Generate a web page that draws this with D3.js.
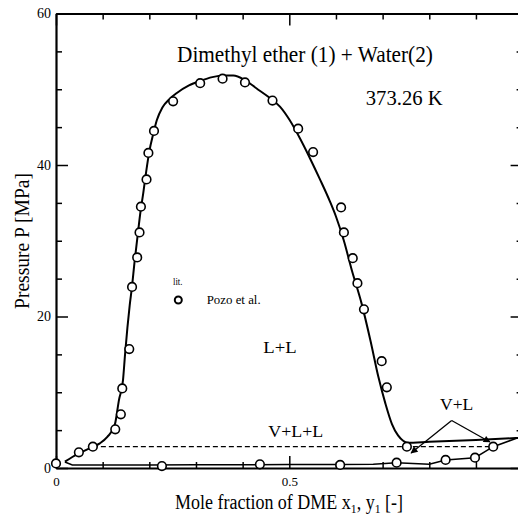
<!DOCTYPE html>
<html><head><meta charset="utf-8">
<script src="https://cdn.jsdelivr.net/npm/d3@7"></script>
<style>
body{margin:0;background:#fff}
svg{display:block}
text{font-family:"Liberation Serif","Times New Roman",serif;fill:#000}
</style>
</head><body><svg id="c" width="518" height="516"></svg>
<script>
// ---- data ----
const xMajorTicks = [0, 0.5];
const xMajorLabels = ["0", "0.5"];
const xMinorTicks = [0.1, 0.2, 0.3, 0.4, 0.6, 0.7, 0.8, 0.9];
const yMajorTicks = [0, 20, 40, 60];
const yMajorLabels = ["0", "20", "40", "60"];
const yMinorTicks = [5, 10, 15, 25, 30, 35, 45, 50, 55];

// calculated L-L / bubble curve
const curveX = [0.019,0.035,0.049,0.065,0.079,0.094,0.110,0.126,0.135,0.1436,0.148,0.153,0.158,0.163,0.168,0.175,0.181,0.187,0.193,0.200,0.208,0.216,0.228,0.243,0.259,0.285,0.309,0.335,0.360,0.380,0.405,0.430,0.455,0.480,0.500,0.523,0.545,0.565,0.587,0.600,0.617,0.634,0.655,0.674,0.691,0.706,0.720,0.733,0.744,0.752,0.80,0.90,1.0];
const curveY = [0.83,1.45,1.94,2.4,2.81,3.26,4.1,5.7,9.0,11.6,15.0,18.5,21.5,24.0,27.0,30.7,33.8,36.3,39.0,41.8,44.0,45.9,47.6,48.7,49.5,50.5,51.1,51.6,51.8,51.8,51.2,50.1,49.0,47.7,46.0,43.5,40.8,38.2,35.2,33.2,30.0,26.1,21.7,16.8,12.0,8.5,5.8,4.3,3.6,3.34,3.45,3.7,4.0];

// calculated dew curve
const dewX = [0.019,0.035,0.1,0.2,0.3,0.4,0.5,0.6,0.68,0.73,0.80,0.835,0.898,0.937,0.987,1.0];
const dewY = [0.8,0.4,0.4,0.4,0.42,0.42,0.45,0.45,0.5,0.68,0.5,1.06,1.36,2.81,3.92,4.0];

// three-phase line
const threePhaseX = [0.079, 0.937];
const threePhaseY = [2.81, 2.81];

// literature data (Pozo et al.)
const pozoX = [0.0,0.049,0.079,0.127,0.139,0.142,0.157,0.163,0.174,0.179,0.182,0.194,0.198,0.210,0.251,0.309,0.357,0.405,0.464,0.519,0.551,0.611,0.617,0.636,0.646,0.660,0.698,0.709,0.752,0.937,0.898,0.835,0.730,0.609,0.437,0.227];
const pozoY = [0.6,2.07,2.81,5.11,7.09,10.5,15.7,23.9,27.8,31.1,34.5,38.1,41.6,44.5,48.4,50.8,51.4,50.9,48.5,44.8,41.7,34.4,31.1,27.7,24.4,20.95,14.1,10.65,2.81,2.81,1.36,1.06,0.70,0.40,0.49,0.26];

// annotation arrows (data coords)
const arrowStart = [0.848, 6.27];
const arrowEnds = [[0.761, 1.98], [0.930, 3.43]];

// ---- drawing ----
const svg = d3.select("#c");
const x = d3.scaleLinear().domain([0, 1]).range([56, 522.6]);
const y = d3.scaleLinear().domain([0, 60]).range([468, 13.5]);
const FONT = '"Liberation Serif","Times New Roman",serif';

function styleAxis(g, showDomain) {
  g.attr("font-family", FONT).attr("font-size", 14);
  g.select(".domain").attr("stroke-width", 2.2).attr("display", showDomain ? null : "none");
  g.selectAll(".tick line").attr("stroke-width", 1.5);
  g.selectAll(".tick text").attr("fill", "#000");
}

// bottom
svg.append("g").attr("transform", `translate(0,${y(0)})`)
  .call(d3.axisBottom(x).tickValues(xMinorTicks).tickSizeInner(-6).tickSizeOuter(0).tickFormat(""))
  .call(g => styleAxis(g, false));
svg.append("g").attr("transform", `translate(0,${y(0)})`)
  .call(d3.axisBottom(x).tickValues(xMajorTicks).tickSizeInner(-12).tickSizeOuter(0).tickPadding(9)
    .tickFormat((d, i) => xMajorLabels[i]))
  .call(g => styleAxis(g, true))
  .call(g => g.attr("font-size", 13));
// top
svg.append("g").attr("transform", `translate(0,${y(60)})`)
  .call(d3.axisTop(x).tickValues(xMinorTicks).tickSizeInner(-6).tickSizeOuter(0).tickFormat(""))
  .call(g => styleAxis(g, false));
svg.append("g").attr("transform", `translate(0,${y(60)})`)
  .call(d3.axisTop(x).tickValues(xMajorTicks).tickSizeInner(-12).tickSizeOuter(0).tickFormat(""))
  .call(g => styleAxis(g, true));
// left
svg.append("g").attr("transform", `translate(${x(0)},0)`)
  .call(d3.axisLeft(y).tickValues(yMinorTicks).tickSizeInner(-6).tickSizeOuter(0).tickFormat(""))
  .call(g => styleAxis(g, false));
svg.append("g").attr("transform", `translate(${x(0)},0)`)
  .call(d3.axisLeft(y).tickValues(yMajorTicks).tickSizeInner(-12).tickSizeOuter(0).tickPadding(5)
    .tickFormat((d, i) => yMajorLabels[i]))
  .call(g => styleAxis(g, true));
// right
svg.append("g").attr("transform", `translate(${x(1)},0)`)
  .call(d3.axisRight(y).tickValues(yMinorTicks).tickSizeInner(-6).tickSizeOuter(0).tickFormat(""))
  .call(g => styleAxis(g, false));
svg.append("g").attr("transform", `translate(${x(1)},0)`)
  .call(d3.axisRight(y).tickValues(yMajorTicks).tickSizeInner(-12).tickSizeOuter(0).tickFormat(""))
  .call(g => styleAxis(g, true));

// lines
const curvePts = curveX.map((v, i) => [v, curveY[i]]);
const dewPts = dewX.map((v, i) => [v, dewY[i]]);
const tpPts = threePhaseX.map((v, i) => [v, threePhaseY[i]]);

svg.append("path").attr("d", d3.line().x(d => x(d[0])).y(d => y(d[1]))(tpPts))
  .attr("fill", "none").attr("stroke", "#000").attr("stroke-width", 1.3).attr("stroke-dasharray", "5,3");
svg.append("path").attr("d", d3.line().x(d => x(d[0])).y(d => y(d[1]))(dewPts))
  .attr("fill", "none").attr("stroke", "#000").attr("stroke-width", 1.5);
svg.append("path").attr("d", d3.line().x(d => x(d[0])).y(d => y(d[1])).curve(d3.curveMonotoneX)(curvePts))
  .attr("fill", "none").attr("stroke", "#000").attr("stroke-width", 2);

// circles
svg.append("g").selectAll("circle").data(pozoX.map((v, i) => [v, pozoY[i]])).join("circle")
  .attr("cx", d => x(d[0])).attr("cy", d => y(d[1])).attr("r", 4.3)
  .attr("fill", "#fff").attr("stroke", "#000").attr("stroke-width", 1.6);

// arrows
const defs = svg.append("defs");
defs.append("marker").attr("id", "ah").attr("viewBox", "0 0 10 10").attr("refX", 9).attr("refY", 5)
  .attr("markerWidth", 9).attr("markerHeight", 7).attr("markerUnits", "userSpaceOnUse").attr("orient", "auto")
  .append("path").attr("d", "M0,0 L10,5 L0,10 z").attr("fill", "#000");
arrowEnds.forEach(e => {
  svg.append("line").attr("x1", x(arrowStart[0])).attr("y1", y(arrowStart[1]))
    .attr("x2", x(e[0])).attr("y2", y(e[1])).attr("stroke", "#000").attr("stroke-width", 1.3)
    .attr("marker-end", "url(#ah)");
});

// text helper: place text and squeeze horizontally to target width
function addText(str, x0, y0, size, width, rot) {
  const t = svg.append("text").attr("font-size", size).attr("x", 0).attr("y", 0).text(str);
  const w = t.node().getComputedTextLength();
  const s = width ? width / w : 1;
  t.attr("transform", `translate(${x0},${y0})${rot ? ` rotate(${rot})` : ""} scale(${s},1)`);
  return t;
}

addText("Dimethyl ether (1) + Water(2)", 177, 61.5, 24, 256);
addText("373.26 K", 365.7, 105, 22, 77);
addText("lit.", 173, 285, 10, 9.5);
addText("Pozo et al.", 206.7, 304, 12, 54);
addText("L+L", 263.3, 352.7, 17, 33.4);
addText("V+L+L", 268.3, 437.3, 17, 55);
addText("V+L", 440, 410, 17, 33.3);

// legend symbol
svg.append("circle").attr("cx", 178.3).attr("cy", 300).attr("r", 3.5)
  .attr("fill", "#fff").attr("stroke", "#000").attr("stroke-width", 2);

// y axis title (rotated, centered)
{
  const t = svg.append("text").attr("font-size", 20).attr("x", 0).attr("y", 0)
    .attr("text-anchor", "middle").text("Pressure P [MPa]");
  const w = t.node().getComputedTextLength();
  t.attr("transform", `translate(29,241) rotate(-90) scale(${136 / w},1)`);
}
// x axis title with subscripts
{
  const t = svg.append("text").attr("font-size", 20).attr("x", 0).attr("y", 0);
  t.append("tspan").text("Mole fraction of DME x");
  t.append("tspan").attr("font-size", 13).attr("dy", 4).text("1");
  t.append("tspan").attr("dy", -4).text(", y");
  t.append("tspan").attr("font-size", 13).attr("dy", 4).text("1");
  t.append("tspan").attr("dy", -4).text(" [-]");
  const w = t.node().getComputedTextLength();
  t.attr("transform", `translate(175,509) scale(${228 / w},1)`);
}
</script>
</body></html>
